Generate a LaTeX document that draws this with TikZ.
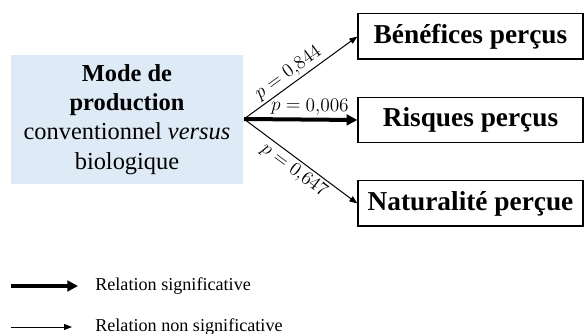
\documentclass[tikz,border=0pt]{standalone}
\usepackage{fontspec}
\setmainfont{Liberation Serif}
\usetikzlibrary{arrows.meta,positioning}
\definecolor{modeblue}{RGB}{222,234,245}

\begin{document}
\begin{tikzpicture}[x=0.75pt, y=-0.75pt,
    resultbox/.style = {draw, line width=1pt, minimum width=168.75pt, minimum height=34pt,
        font=\fontsize{20.5}{24}\selectfont\bfseries, inner sep=0pt},
    nsarrow/.style = {line width=0.75pt, -{Triangle[length=6pt, width=4.5pt]}},
    sigarrow/.style = {line width=3pt, -{Triangle[length=8pt, width=8pt]}},
    plabel/.style = {font=\fontsize{13.5}{15}\selectfont, sloped, inner sep=2pt}]
        \useasboundingbox (0,0) rectangle (584,334);
        % variable explicative
        \node[fill=modeblue, minimum width=174pt, minimum height=96.75pt, align=center,
            font=\fontsize{18.3}{22}\selectfont](mode) at (127,119.5)
            {\textbf{Mode de}\\\textbf{production}\\conventionnel \textit{versus}\\biologique};
        \coordinate (src) at (244,119);
        % perceptions
        \node[resultbox](ben) at (470.5,36.5){Bénéfices perçus};
        \node[resultbox](ris) at (470.5,120){Risques perçus};
        \node[resultbox](nat) at (470.5,203.5){Naturalité perçue};
        % relations
        \path[draw, nsarrow](src)to node[plabel, above, pos=0.45]{$p = 0{,}844$}(ben.west);
        \path[draw, sigarrow](src)to node[plabel, above, pos=0.58]{$p = 0{,}006$}(ris.west);
        \path[draw, nsarrow](src)to node[plabel, below, pos=0.5]{$p = 0{,}647$}(nat.west);
        % legende
        \coordinate (s1) at (11,286);
        \coordinate (s2) at (78,286);
        \coordinate (n1) at (11,327);
        \coordinate (n2) at (72,327);
        \path[draw, sigarrow](s1)to(s2);
        \path[draw, nsarrow](n1)to(n2);
        \node[anchor=west, inner sep=0pt, font=\fontsize{13.6}{16}\selectfont](sigtext) at (95,286){Relation significative};
        \node[anchor=west, inner sep=0pt, font=\fontsize{13.6}{16}\selectfont](nstext) at (95,327){Relation non significative};
    \end{tikzpicture}
\end{document}
